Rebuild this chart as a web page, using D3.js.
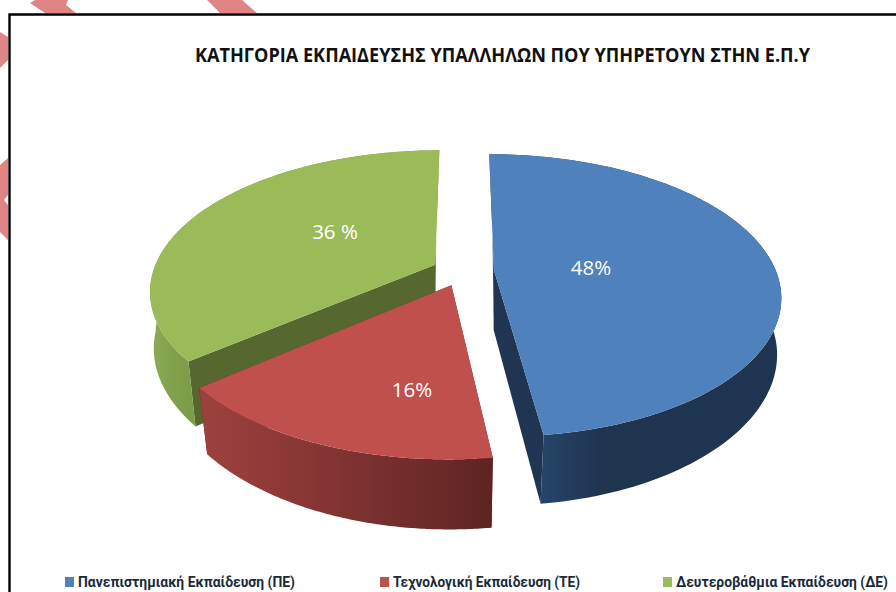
<!DOCTYPE html>
<html><head><meta charset="utf-8">
<script src="https://cdn.jsdelivr.net/npm/d3@7"></script>
<style>html,body{margin:0;padding:0;background:#fff}svg{display:block}</style>
</head><body><svg id="c" width="896" height="592"></svg>
<script>
const categories = ["Πανεπιστημιακή Εκπαίδευση (ΠΕ)", "Τεχνολογική Εκπαίδευση (ΤΕ)", "Δευτεροβάθμια Εκπαίδευση (ΔΕ)"];
const values = [48, 16, 36];
const valueLabels = ["48%", "16%", "36 %"];
const title = "ΚΑΤΗΓΟΡΙΑ ΕΚΠΑΙΔΕΥΣΗΣ ΥΠΑΛΛΗΛΩΝ ΠΟΥ ΥΠΗΡΕΤΟΥΝ ΣΤΗΝ Ε.Π.Υ";
const topColors = ["#4f81bd", "#c0504d", "#9bbb59"];
const faceColors = ["#1f3552", "#5f2422", "#56682f"];
const wallStops = [["#264469", "#20344f", "#1f3450"], ["#9e413e", "#7f3331", "#5e2422"], ["#8cad54", "#82a34d", "#7d9c49"]];
const labelX = [591, 412, 335], labelY = [268, 390, 232];
const legendSwatchX = [65, 380, 663];
const legendTextEnd = [295, 580, 888];

const svg = d3.select("#c");
const defs = svg.append("defs");

// watermark fragments and frame
const fragments = [
  [[30,3],[35,0],[68,0],[66,5],[76,13],[45,13]],
  [[207,0],[242,0],[257,13],[220,13]],
  [[0,32],[8,37],[8,60],[0,68]],
  [[0,165],[8,158],[8,195],[4,200],[8,205],[8,240],[0,232]]
];
svg.selectAll("polygon.f").data(fragments).join("polygon").attr("class","f")
  .attr("points", d => d.join(" ")).attr("fill", "#e08585");
svg.append("path").attr("d","M9.5,592V14.5H896").attr("fill","none").attr("stroke","#000").attr("stroke-width",2.4);

// perspective projection of the pie plane
const Xc = 463, Yc = 271, RX = 282, RY = 137, K = 0.18, EXPLODE = 0.11, H = 60;
function project(x, v, low) {
  const w = 1 - K * v;
  let X = RX * x / w, Y = RY * v / w;
  if (low) {
    X *= v >= 0 ? 0.992 - 0.03 * v : 0.992 - 0.12 * v;
    Y += H * Math.pow(w, -0.7);
  }
  return [Xc + X, Yc + Y];
}
const pie = d3.pie().sort(null).value(d => d).startAngle(0).endAngle(2 * Math.PI);
const arcs = pie(values);
const line = d3.line();

function sliceGeom(a) {
  const mid = (a.startAngle + a.endAngle) / 2;
  const ex = EXPLODE * Math.sin(mid), ev = -EXPLODE * Math.cos(mid);
  const n = 120;
  const angs = d3.range(n + 1).map(i => a.startAngle + (a.endAngle - a.startAngle) * i / n);
  const rim = low => angs.map(t => project(ex + Math.sin(t), ev - Math.cos(t), low));
  return {apex: project(ex, ev, false), apexLow: project(ex, ev, true), rimT: rim(false), rimB: rim(true)};
}
const geoms = arcs.map(sliceGeom);
const drawOrder = [2, 0, 1];
drawOrder.forEach(i => {
  const g = geoms[i];
  const xs = g.rimT.filter(p => p[1] > Yc).map(p => p[0]);
  const grad = defs.append("linearGradient").attr("id", "w" + i)
    .attr("gradientUnits", "userSpaceOnUse")
    .attr("x1", i === 2 ? 150 : d3.min(xs)).attr("x2", i === 0 ? 660 : d3.max(xs)).attr("y1", 0).attr("y2", 0);
  wallStops[i].forEach((c, j) => grad.append("stop").attr("offset", j / 2).attr("stop-color", c));
  const n = g.rimT.length - 1;
  // cut faces
  [[g.apex, g.rimT[0], g.rimB[0], g.apexLow], [g.apex, g.rimT[n], g.rimB[n], g.apexLow]].forEach(q =>
    svg.append("path").attr("d", line(q) + "Z").attr("fill", faceColors[i]));
  // outer wall
  svg.append("path").attr("d", line(g.rimT.concat(g.rimB.slice().reverse())) + "Z").attr("fill", `url(#w${i})`);
  // top
  svg.append("path").attr("d", line([g.apex].concat(g.rimT)) + "Z").attr("fill", topColors[i]);
});

const font = "'Open Sans', 'Noto Sans', sans-serif";
svg.append("text").attr("x", 195).attr("y", 62).text(title)
  .attr("font-family", font).attr("font-weight", 700).attr("font-size", 20).attr("fill", "#111")
  .attr("textLength", 615).attr("lengthAdjust", "spacingAndGlyphs");

svg.selectAll("text.v").data(valueLabels).join("text").attr("class","v")
  .attr("x", (d, i) => labelX[i]).attr("y", (d, i) => labelY[i]).attr("dy", "0.35em")
  .attr("text-anchor", "middle").text(d => d)
  .attr("font-family", font).attr("font-size", 20.5).attr("fill", "#fff");

categories.forEach((c, i) => {
  svg.append("rect").attr("x", legendSwatchX[i]).attr("y", 577).attr("width", 9).attr("height", 10).attr("fill", topColors[i]);
  svg.append("text").attr("x", legendSwatchX[i] + 13).attr("y", 587).text(c)
    .attr("font-family", "Roboto, 'Open Sans', sans-serif").attr("font-weight", 700).attr("font-size", 14).attr("fill", "#1a2a3a")
    .attr("textLength", legendTextEnd[i] - legendSwatchX[i] - 13).attr("lengthAdjust", "spacingAndGlyphs");
});
</script></body></html>
